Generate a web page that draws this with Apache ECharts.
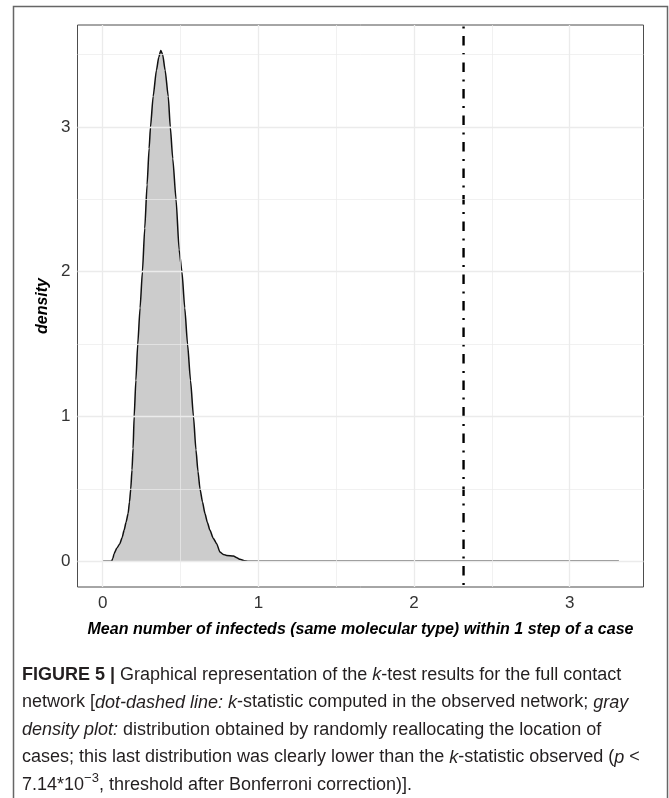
<!DOCTYPE html>
<html>
<head>
<meta charset="utf-8">
<title>Figure 5 - k-test density</title>
<script src="https://cdn.jsdelivr.net/npm/echarts@6.0.0/dist/echarts.min.js"></script>
<style>
  html, body { margin: 0; padding: 0; background: #fff; }
  #chart { width: 669px; height: 798px; }
</style>
</head>
<body>
<div id="chart"></div>
<script>
// density of the k-statistic under random reallocation of the cases
const densX = [0, 0.056, 0.065, 0.073, 0.09, 0.11, 0.125, 0.137, 0.15, 0.163, 0.172, 0.18, 0.188, 0.195,
  0.202, 0.213, 0.225, 0.24, 0.255, 0.27, 0.285, 0.298, 0.307, 0.324, 0.345, 0.36, 0.373, 0.385,
  0.401, 0.421, 0.434, 0.45, 0.471, 0.491, 0.509, 0.527, 0.545, 0.564, 0.583, 0.599, 0.612, 0.625,
  0.641, 0.657, 0.672, 0.689, 0.71, 0.732, 0.753, 0.775, 0.796, 0.84, 0.862, 0.882, 0.91, 0.936, 3.316];
const densY = [0, 0, 0.02, 0.053, 0.09, 0.122, 0.165, 0.214, 0.27, 0.33, 0.41, 0.5, 0.63, 0.78,
  1.0, 1.25, 1.5, 1.75, 2.0, 2.3, 2.6, 2.85, 3.0, 3.21, 3.39, 3.48, 3.527, 3.5,
  3.39, 3.21, 3.0, 2.78, 2.5, 2.15, 2.0, 1.75, 1.5, 1.25, 1.0, 0.77, 0.62, 0.5,
  0.41, 0.33, 0.27, 0.214, 0.16, 0.122, 0.064, 0.048, 0.041, 0.037, 0.025, 0.014, 0.005, 0, 0];
// k-statistic computed in the observed network (dot-dashed line)
const kObserved = 2.318;

const xTicks = [0, 1, 2, 3];
const yTicks = [0, 1, 2, 3];
const xMinor = [0.5, 1.5, 2.5];
const yMinor = [0.5, 1.5, 2.5, 3.5];

const xTitle = 'Mean number of infecteds (same molecular type) within 1 step of a case';
const yTitle = 'density';
// caption, one entry per printed line ({b|..} bold, {i|..} italic, {sup|..} superscript)
const captionLines = [
  '{b|FIGURE 5 |} Graphical representation of the {i|k}-test results for the full contact',
  'network [{i|dot-dashed line: k}-statistic computed in the observed network; {i|gray}',
  '{i|density plot:} distribution obtained by randomly reallocating the location of',
  'cases; this last distribution was clearly lower than the {i|k}-statistic observed ({i|p} <',
  '7.14*10{sup|\u22123}, threshold after Bonferroni correction)].'
];

const FONT = '"Liberation Sans", Arial, Helvetica, sans-serif';
const chart = echarts.init(document.getElementById('chart'));

// gridlines drawn as markLines so they sit on the real data values
const gridLine = (v, axis, minor) => ({
  [axis]: v,
  lineStyle: { color: '#ebebeb', width: minor ? 0.7 : 1.3, type: 'solid' }
});
const gridData = [].concat(
  xTicks.map(v => gridLine(v, 'xAxis', false)),
  xMinor.map(v => gridLine(v, 'xAxis', true)),
  yTicks.map(v => gridLine(v, 'yAxis', false)),
  yMinor.map(v => gridLine(v, 'yAxis', true))
);

const capFont = 18;
const capStyle = (extra) => Object.assign({
  fontSize: capFont, fontFamily: FONT, fontWeight: 'normal', fontStyle: 'normal', fill: '#231f20'
}, extra);
const captionGraphics = captionLines.map((line, i) => ({
  type: 'text',
  x: 22,
  y: 675 + i * 27.5,
  style: {
    text: line,
    fontSize: capFont,
    fontFamily: FONT,
    fill: '#231f20',
    verticalAlign: 'middle',
    rich: {
      b: capStyle({ fontWeight: 'bold' }),
      i: capStyle({ fontStyle: 'italic' }),
      sup: capStyle({ fontSize: 13, padding: [0, 0, 14, 0] })
    }
  }
}));

const titleStyle = { fontSize: 16, fontFamily: FONT, fontWeight: 'bold', fontStyle: 'italic', color: '#000' };

const option = {
  animation: false,
  backgroundColor: '#fff',
  grid: {
    left: 77.5, top: 25, width: 566, height: 562,
    show: true, borderColor: '#4d4d4d', borderWidth: 1, backgroundColor: 'transparent'
  },
  xAxis: {
    type: 'value', min: -0.162, max: 3.474,
    axisLine: { show: false },
    splitLine: { show: false },
    axisTick: { show: true, customValues: xTicks, length: 4, lineStyle: { color: '#333', width: 1 } },
    axisLabel: { customValues: xTicks, fontSize: 17, fontFamily: FONT, color: '#333', margin: 8 },
    name: xTitle, nameLocation: 'middle', nameGap: 35,
    nameTextStyle: titleStyle
  },
  yAxis: {
    type: 'value', min: -0.177, max: 3.703,
    axisLine: { show: false },
    splitLine: { show: false },
    axisTick: { show: true, customValues: yTicks, length: 4, lineStyle: { color: '#333', width: 1 } },
    axisLabel: { customValues: yTicks, fontSize: 17, fontFamily: FONT, color: '#333', margin: 7 },
    name: yTitle, nameLocation: 'middle', nameGap: 22, nameRotate: 90,
    nameTextStyle: titleStyle
  },
  graphic: [
    // outer figure frame (open at the bottom)
    {
      type: 'polyline',
      shape: { points: [[13.5, 798], [13.5, 6.5], [667.5, 6.5], [667.5, 798]] },
      style: { stroke: '#666', lineWidth: 1.5, fill: null }
    }
  ].concat(captionGraphics),
  series: [
    {
      // holder for the gridlines
      type: 'line', data: [], z: 1, silent: true,
      markLine: { silent: true, symbol: 'none', label: { show: false }, animation: false, data: gridData }
    },
    {
      name: 'density', type: 'line', z: 2,
      data: densX.map((x, i) => [x, densY[i]]),
      symbol: 'none', smooth: 0.2, smoothMonotone: 'x',
      lineStyle: { color: '#111', width: 1.5 },
      areaStyle: { color: '#cccccc', opacity: 1, origin: 0 }
    },
    {
      name: 'observed', type: 'line', z: 3,
      data: [[kObserved, 3.703], [kObserved, -0.177]],
      symbol: 'none',
      lineStyle: { color: '#000', width: 2.4, type: [2, 7.5, 9.5, 7.5], dashOffset: 25, cap: 'butt' }
    }
  ]
};
chart.setOption(option);
</script>
</body>
</html>
